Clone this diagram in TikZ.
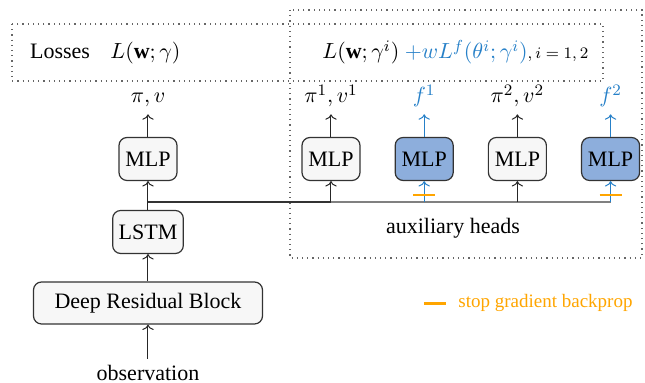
\documentclass[tikz,border=0pt]{standalone}
\usepackage{amsmath, amssymb}
\usepackage{fontspec}
\setmainfont{Liberation Serif}
\usetikzlibrary{arrows.meta, positioning}

\definecolor{headblue}{RGB}{141,174,220}
\definecolor{fblue}{RGB}{38,128,200}
\definecolor{stoporange}{RGB}{255,165,0}

\begin{document}
\begin{tikzpicture}[x=0.5pt, y=-0.5pt, font=\fontsize{11}{13}\selectfont,
    block/.style={draw=black!80, line width=0.6pt, rounded corners=4pt, fill=gray!6, minimum height=21.5pt, inner sep=3pt},
    mlpbox/.style={block, minimum width=29pt},
    auxbox/.style={mlpbox, fill=headblue},
    lossbox/.style={draw=black!60, dotted, line width=0.6pt},
    stopmark/.style={stoporange, line width=1.2pt},
    trunk/.style={->, black!85, line width=0.5pt}]
    \useasboundingbox (0,0) rectangle (645,383);

    % dotted frames
    \draw[lossbox] (290,10) rectangle (642,258);
    \draw[lossbox] (12,24) rectangle (603,81);

    % losses
    \node[anchor=base west] (losses) at (23,59) {Losses};
    \node[anchor=base west, inner sep=0pt] (mainloss) at (110,59) {$L(\mathbf{w};\gamma)$};
    \node[anchor=base west, inner sep=0pt] (auxloss) at (322,59) {$L(\mathbf{w};\gamma^i)$ \textcolor{fblue}{$+wL^f(\theta^i;\gamma^i)$}$\scriptstyle,\,i\;=\;1,\,2$};

    % main network
    \node[anchor=base] (obs) at (148,381) {observation};
    \node[block, minimum width=114.5pt, minimum height=21pt] (drb) at (148,303) {Deep Residual Block};
    \node[block, minimum width=35pt] (lstm) at (148,232) {LSTM};
    \node[mlpbox] (mlp) at (148,159) {MLP};
    \node[anchor=base] (pv) at (148,103) {$\pi, v$};

    % auxiliary heads
    \node[mlpbox] (mlp1) at (331,159) {MLP};
    \node[auxbox, right=17pt of mlp1] (aux1) {MLP};
    \node[mlpbox, right=17pt of aux1] (mlp2) {MLP};
    \node[auxbox, right=17pt of mlp2] (aux2) {MLP};
    \node[anchor=base] (pv1) at (mlp1 |- pv.base) {$\pi^1, v^1$};
    \node[anchor=base, text=fblue] (f1) at (aux1 |- pv.base) {$f^1$};
    \node[anchor=base] (pv2) at (mlp2 |- pv.base) {$\pi^2, v^2$};
    \node[anchor=base, text=fblue] (f2) at (aux2 |- pv.base) {$f^2$};
    \node (auxlabel) at (453,228) {auxiliary heads};

    % legend
    \node[anchor=base west, text=stoporange, inner sep=3pt, font=\fontsize{9.5}{11}\selectfont] (legend) at (452,308) {stop gradient backprop};
    \draw[stopmark] (legend.west) ++(-28,0) -- ++(22,0);

    \draw[trunk] (obs) -- (drb);
    \draw[trunk] (drb) -- (lstm);
    \draw[trunk] (lstm) -- (mlp);
    \draw[trunk] (mlp) -- (pv);

    \coordinate (split) at (148,202);
    \draw[gray, line width=0.8pt] (split) -- (aux2.south |- split);
    \draw[black!80, line width=1pt] (split) -- (mlp1.south |- split);

    \draw[trunk] (mlp1.south |- split) -- (mlp1);
    \draw[trunk] (mlp2.south |- split) -- (mlp2);
    \draw[trunk, fblue] (aux1.south |- split) -- (aux1);
    \draw[trunk, fblue] (aux2.south |- split) -- (aux2);
    \draw[stopmark] (aux1.south |- split) ++(-11,-7) -- ++(22,0);
    \draw[stopmark] (aux2.south |- split) ++(-11,-7) -- ++(22,0);

    \draw[trunk] (mlp1) -- (pv1);
    \draw[trunk] (mlp2) -- (pv2);
    \draw[trunk, fblue] (aux1) -- (f1);
    \draw[trunk, fblue] (aux2) -- (f2);
\end{tikzpicture}
\end{document}
